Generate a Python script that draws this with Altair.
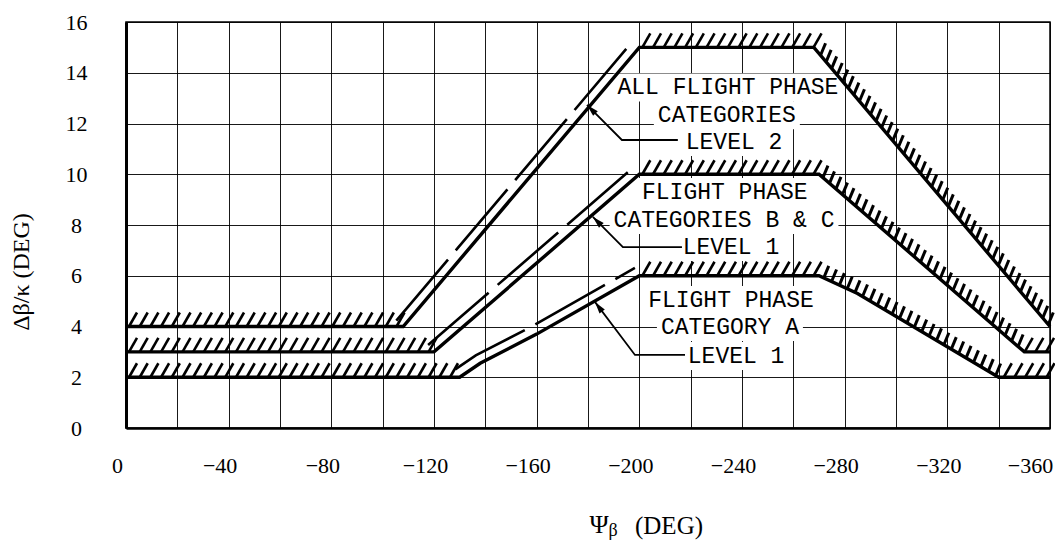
import math
import altair as alt
import pandas as pd

# ---------------- data ----------------
PSI_DOMAIN = [0, -360]
DB_DOMAIN = [0, 16]
PSI_TICKS = list(range(0, -361, -20))
DB_TICKS = list(range(0, 17, 2))

CURVE_NAMES = ["ALL LEVEL 2", "B&C LEVEL 1", "A LEVEL 1"]
PSI_L2 = [0, -108, -200, -268, -360]
DB_L2 = [4, 4, 15, 15, 4]
PSI_BC = [0, -120, -200, -270, -350, -360]
DB_BC = [3, 3, 10, 10, 3, 3]
PSI_A = [0, -130, -138, -160, -200, -270, -285, -340, -360]
DB_A = [2, 2, 2.55, 3.7, 6, 6, 5.3, 2, 2]

LABEL_TEXT = ["ALL FLIGHT PHASE", "CATEGORIES", "LEVEL 2",
              "FLIGHT PHASE", "CATEGORIES B & C", "LEVEL 1",
              "FLIGHT PHASE", "CATEGORY A", "LEVEL 1"]
LABEL_PSI = [-234.5, -234.1, -236.9, -233.3, -233.0, -235.7, -235.7, -235.3, -237.7]
LABEL_DB = [13.42, 12.33, 11.27, 9.30, 8.20, 7.13, 5.04, 3.98, 2.84]

LEADER_PSI = [[-179.6, -193.2, -215.0], [-181.9, -193.6, -216.6], [-182.7, -198.3, -217.8]]
LEADER_DB = [[12.73, 11.35, 11.35], [8.32, 7.13, 7.13], [4.97, 2.88, 2.88]]

# ---------------- layout ----------------
W, H = 924, 406
PAD = {"left": 118, "top": 14, "right": 5, "bottom": 112}
SX = W / abs(PSI_DOMAIN[1] - PSI_DOMAIN[0])
SY = H / (DB_DOMAIN[1] - DB_DOMAIN[0])


def to_px(x, y):
    return ((PSI_DOMAIN[0] - x) * SX, (DB_DOMAIN[1] - y) * SY)


def to_data(u, v):
    return (PSI_DOMAIN[0] - u / SX, DB_DOMAIN[1] - v / SY)


FLAT_STEP, FLAT_VEC = 10.7, (8.0, -14.0)
DESC_STEP, DESC_VEC = 8.6, (5.0, -12.0)
RISE_GAP = 9.0

curves = [(CURVE_NAMES[0], PSI_L2, DB_L2), (CURVE_NAMES[1], PSI_BC, DB_BC), (CURVE_NAMES[2], PSI_A, DB_A)]

line_rows, flat_rows, desc_rows, rise_rows = [], [], [], []
for name, psi, db in curves:
    for i, (a, b) in enumerate(zip(psi, db)):
        line_rows.append({"curve": name, "idx": i, "psi": a, "db": b})
    P = [to_px(a, b) for a, b in zip(psi, db)]
    s = 3.0
    run, runs = [], []
    for (u0, v0), (u1, v1) in zip(P[:-1], P[1:]):
        du, dv = u1 - u0, v1 - v0
        L = math.hypot(du, dv)
        if dv < -0.5:
            if not run:
                run = [(u0, v0)]
            run.append((u1, v1))
            s = 3.0
            continue
        if run:
            runs.append(run)
            run = []
        flat = abs(dv) < 0.5
        step, vec = (FLAT_STEP, FLAT_VEC) if flat else (DESC_STEP, DESC_VEC)
        target = flat_rows if flat else desc_rows
        while s <= L:
            u = u0 + du * s / L
            v = v0 + dv * s / L
            x1, y1 = to_data(u, v)
            x2, y2 = to_data(u + vec[0], v + vec[1])
            target.append({"psi": x1, "db": y1, "psi2": x2, "db2": y2})
            s += step
        s -= L
    if run:
        runs.append(run)
    for k, r in enumerate(runs):
        (ua, va), (ub, vb) = r[0], r[-1]
        L = math.hypot(ub - ua, vb - va)
        nx, ny = (vb - va) / L * RISE_GAP, -(ub - ua) / L * RISE_GAP
        for j, (u, v) in enumerate(r):
            x, y = to_data(u + nx, v + ny)
            rise_rows.append({"run": f"{name}-{k}", "idx": j, "psi": x, "db": y})

lines_df = pd.DataFrame(line_rows)
flat_df = pd.DataFrame(flat_rows)
desc_df = pd.DataFrame(desc_rows)
rise_df = pd.DataFrame(rise_rows)

CHAR_W = 13.8
label_rows, rect_rows = [], []
for t, x, y in zip(LABEL_TEXT, LABEL_PSI, LABEL_DB):
    label_rows.append({"text": t, "psi": x, "db": y})
    hw = (len(t) * CHAR_W / 2 + 4) / SX
    hh = 14 / SY
    rect_rows.append({"psi": x + hw, "psi2": x - hw, "db": y - hh, "db2": y + hh})
labels_df = pd.DataFrame(label_rows)
rects_df = pd.DataFrame(rect_rows)

leader_rows, arrow_rows = [], []
for k, (xs, ys) in enumerate(zip(LEADER_PSI, LEADER_DB)):
    for j, (x, y) in enumerate(zip(xs, ys)):
        leader_rows.append({"leader": k, "idx": j, "psi": x, "db": y})
    tu, tv = to_px(xs[0], ys[0])
    eu, ev = to_px(xs[1], ys[1])
    du, dv = tu - eu, tv - ev
    L = math.hypot(du, dv)
    cu, cv = tu - du / L * 6, tv - dv / L * 6
    cx, cy = to_data(cu, cv)
    ang = math.degrees(math.atan2(du, -dv)) % 360
    arrow_rows.append({"psi": cx, "db": cy, "angle": ang})
leaders_df = pd.DataFrame(leader_rows)
arrows_df = pd.DataFrame(arrow_rows)

# ---------------- chart ----------------
x_axis = alt.Axis(values=PSI_TICKS, grid=True, gridColor="black", gridWidth=1, gridOpacity=0.9,
                  domainColor="black", domainWidth=2.5, ticks=False, tickSize=0,
                  labelFont="Liberation Serif", labelFontSize=22, labelColor="black",
                  labelPadding=27,
                  labelOffset={"condition": {"test": "datum.value === -360", "value": -20}, "value": -9},
                  labelFlush=False, labelOverlap=False,
                  labelAngle=0,
                  labelExpr="datum.value % 40 === 0 ? (datum.value === 0 ? '0' : '\u2212' + abs(datum.value)) : ''",
                  title=None)
y_axis = alt.Axis(values=DB_TICKS, grid=True, gridColor="black", gridWidth=1, gridOpacity=0.9,
                  domainColor="black", domainWidth=3, ticks=False, tickSize=0,
                  labelFont="Liberation Serif", labelFontSize=22, labelColor="black",
                  labelPadding=50, labelAlign="center", labelBaseline="middle",
                  labelFlush=False, labelOverlap=False, title=None)

X = alt.X("psi:Q", scale=alt.Scale(domain=PSI_DOMAIN, nice=False, zero=False), axis=x_axis)
Y = alt.Y("db:Q", scale=alt.Scale(domain=DB_DOMAIN, nice=False, zero=False), axis=y_axis)

rects = alt.Chart(rects_df).mark_rect(color="white").encode(x=X, x2="psi2:Q", y=Y, y2="db2:Q")

flat_ticks = alt.Chart(flat_df).mark_rule(color="black", strokeWidth=2.6).encode(
    x=X, y=Y, x2="psi2:Q", y2="db2:Q")
desc_ticks = alt.Chart(desc_df).mark_rule(color="black", strokeWidth=3).encode(
    x=X, y=Y, x2="psi2:Q", y2="db2:Q")

rise = alt.Chart(rise_df).mark_line(color="black", strokeWidth=2.6, strokeDash=[80, 12]).encode(
    x=X, y=Y, detail="run:N", order="idx:Q")

main = alt.Chart(lines_df).mark_line(color="black", strokeWidth=3.4).encode(
    x=X, y=Y, detail="curve:N", order="idx:Q")

leaders = alt.Chart(leaders_df).mark_line(color="black", strokeWidth=1.8).encode(
    x=X, y=Y, detail="leader:N", order="idx:Q")

arrows = alt.Chart(arrows_df).mark_point(
    shape="M0,-1L0.55,1L-0.55,1Z", filled=True, color="black", size=144, opacity=1).encode(
    x=X, y=Y, angle=alt.Angle("angle:Q", scale=None))

texts = alt.Chart(labels_df).mark_text(
    font="Liberation Mono", fontSize=23, color="black", align="center", baseline="middle").encode(
    x=X, y=Y, text="text:N")

one = pd.DataFrame({"k": [0]})
ytitle = alt.Chart(one).mark_text(font="Liberation Serif", fontSize=24, angle=270,
                                  color="black", align="center", baseline="middle").encode(
    x=alt.value(-104), y=alt.value(250), text=alt.value("\u0394\u03b2/\u03ba (DEG)"))
xt_psi = alt.Chart(one).mark_text(font="Liberation Serif", fontSize=26, color="black",
                                  align="center", baseline="alphabetic").encode(
    x=alt.value(473), y=alt.value(511), text=alt.value("\u03a8"))
xt_beta = alt.Chart(one).mark_text(font="Liberation Serif", fontSize=18, color="black",
                                   align="center", baseline="alphabetic").encode(
    x=alt.value(487), y=alt.value(514), text=alt.value("\u03b2"))
xt_deg = alt.Chart(one).mark_text(font="Liberation Serif", fontSize=25, color="black",
                                  align="center", baseline="alphabetic").encode(
    x=alt.value(543), y=alt.value(512), text=alt.value("(DEG)"))

chart = alt.layer(rects, flat_ticks, desc_ticks, rise, main, leaders, arrows, texts,
                  ytitle, xt_psi, xt_beta, xt_deg).properties(
    width=W, height=H,
    autosize=alt.AutoSizeParams(type="none"),
    padding=PAD,
    background="white",
).configure_view(stroke="black", strokeWidth=1.5)

chart.save("out.html", embed_options={"renderer": "svg", "actions": False})
